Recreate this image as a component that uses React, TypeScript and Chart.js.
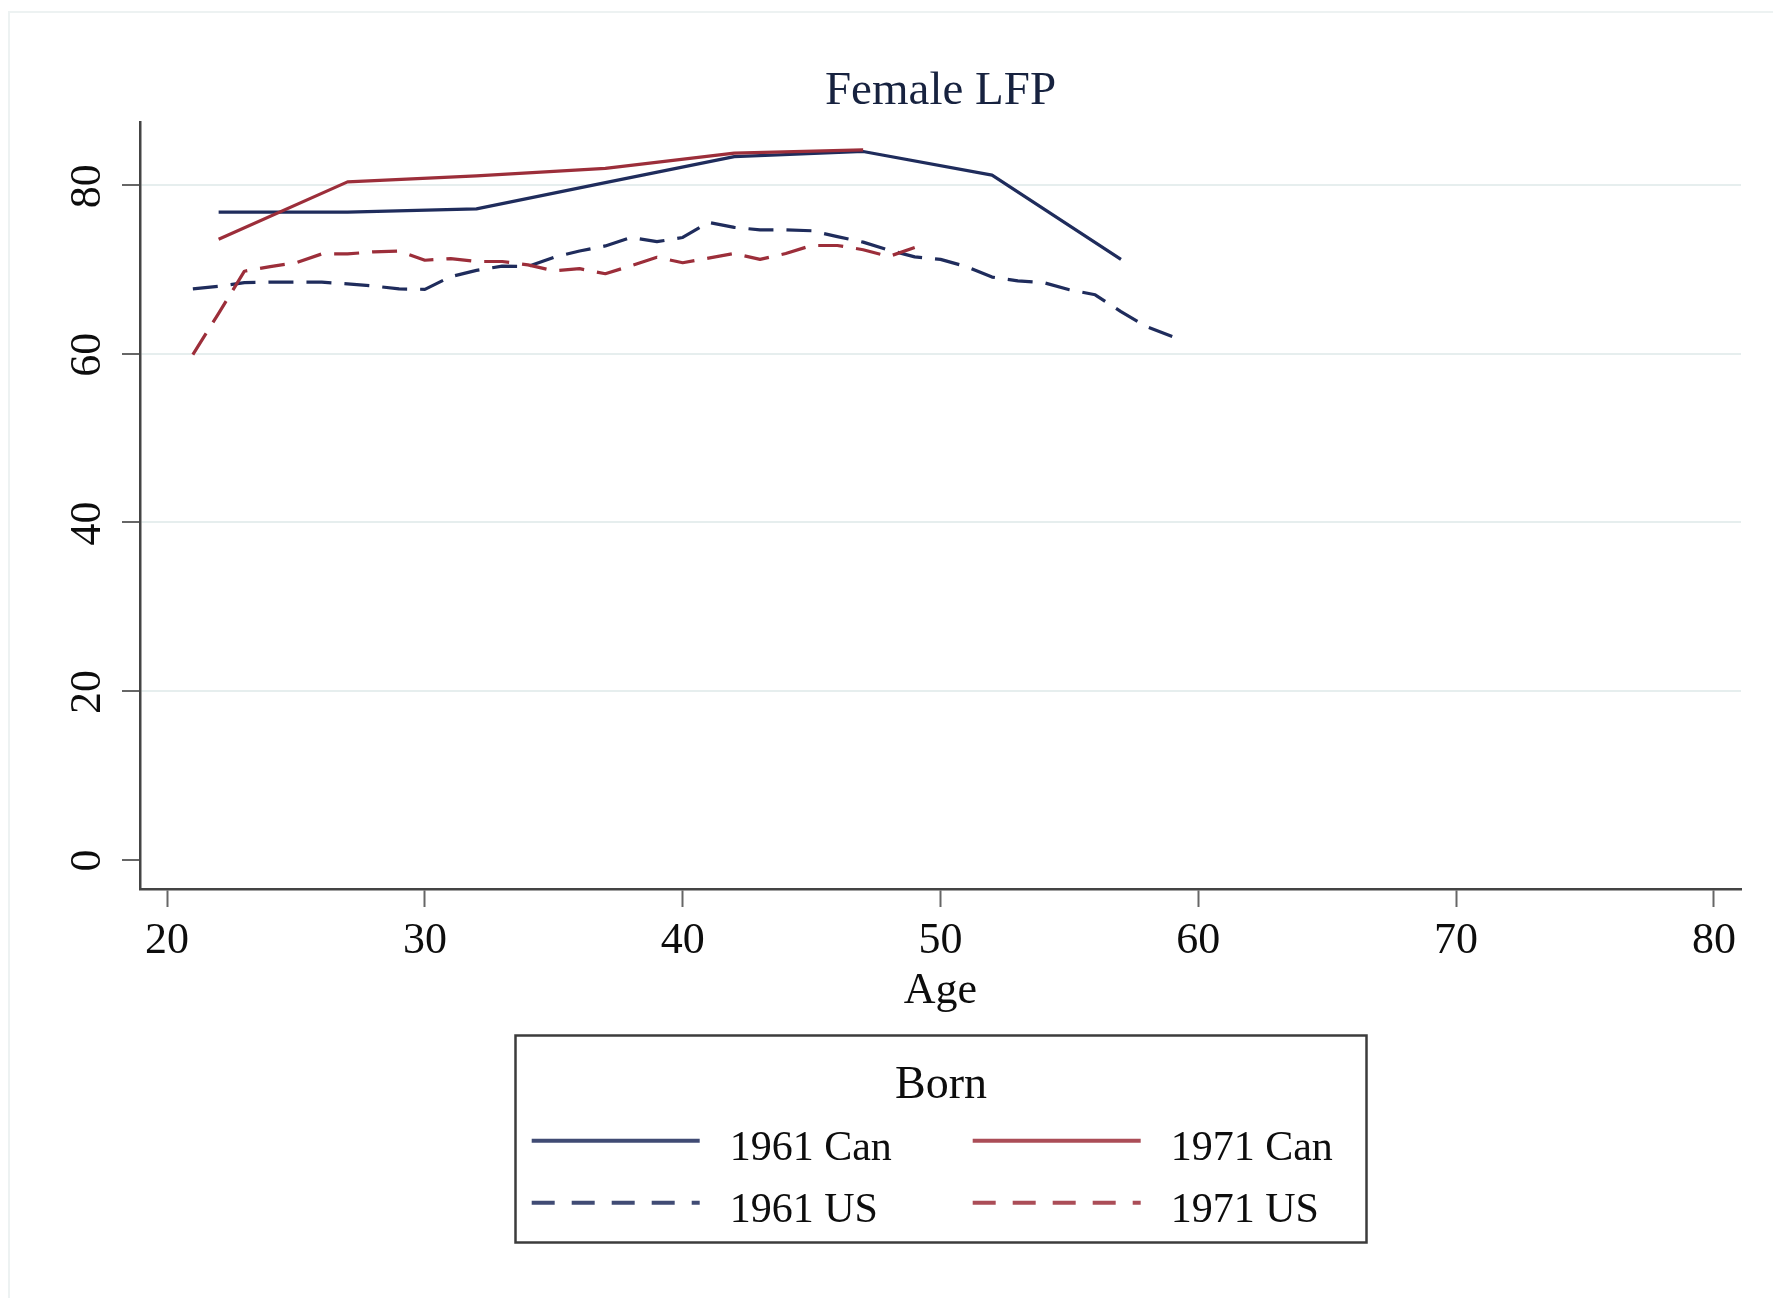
import React, { useEffect, useRef } from 'react';
import { Chart, registerables } from 'chart.js';

Chart.register(...registerables);

const W = 1773;
const H = 1298;
const FONT = '"Liberation Serif", "Times New Roman", serif';

// ---- data ----
const chartTitle = 'Female LFP';
const xAxisTitle = 'Age';
const legendTitle = 'Born';

const seriesLabels = ['1961 Can', '1971 Can', '1961 US', '1971 US'];

const ages1961Can = [22, 27, 32, 37, 42, 47, 52, 57];
const lfp1961Can = [76.8, 76.8, 77.2, 80.3, 83.4, 84.0, 81.2, 71.2];

const ages1971Can = [22, 27, 32, 37, 42, 47];
const lfp1971Can = [73.6, 80.4, 81.1, 82.0, 83.8, 84.2];

const ages1961US = [
  21, 22, 23, 24, 25, 26, 27, 28, 29, 30, 31, 32, 33, 34, 35, 36, 37, 38, 39, 40,
  41, 42, 43, 44, 45, 46, 47, 48, 49, 50, 51, 52, 53, 54, 55, 56, 57, 58, 59,
];
const lfp1961US = [
  67.7, 68.0, 68.45, 68.5, 68.5, 68.5, 68.3, 68.05, 67.7, 67.65, 69.15, 69.9, 70.4, 70.35,
  71.45, 72.2, 72.8, 73.8, 73.3, 73.8, 75.6, 75.0, 74.7, 74.7, 74.6, 73.9, 73.25, 72.3,
  71.5, 71.2, 70.35, 69.1, 68.65, 68.45, 67.6, 67.0, 65.0, 63.2, 62.05,
];

const ages1971US = [
  21, 22, 23, 24, 25, 26, 27, 28, 29, 30, 31, 32, 33, 34, 35, 36, 37, 38, 39, 40,
  41, 42, 43, 44, 45, 46, 47, 48, 49,
];
const lfp1971US = [
  59.9, 64.8, 69.8, 70.35, 70.8, 71.85, 71.85, 72.1, 72.2, 71.1, 71.3, 70.95, 70.95, 70.55,
  69.85, 70.1, 69.5, 70.45, 71.45, 70.8, 71.35, 71.9, 71.2, 71.9, 72.85, 72.85, 72.35,
  71.55, 72.6,
];

const xTickStep = 10;
const yTickStep = 20;

const NAVY = '#1f2c5c';
const MAROON = '#9c2e3a';

const toPoints = (xs: number[], ys: number[]) => xs.map((x, i) => ({ x, y: ys[i] }));

export default function App() {
  const ref = useRef<HTMLCanvasElement>(null);

  useEffect(() => {
    if (!ref.current) return;

    const yLabelPlugin = {
      id: 'rotatedYLabels',
      afterDraw(chart: any) {
        const s = chart.scales.y;
        const c = chart.ctx;
        c.save();
        c.font = `44px ${FONT}`;
        c.fillStyle = '#0d0d0d';
        c.textAlign = 'center';
        c.textBaseline = 'middle';
        s.ticks.forEach((t: any) => {
          const py = s.getPixelForValue(t.value);
          c.save();
          c.translate(88.5, py + 1);
          c.rotate(-Math.PI / 2);
          c.fillText(String(t.value), 0, 0);
          c.restore();
        });
        c.restore();
      },
    };

    const legendPlugin = {
      id: 'bornLegend',
      afterDraw(chart: any) {
        const c = chart.ctx;
        c.save();
        // frame
        c.strokeStyle = '#3c3c3c';
        c.lineWidth = 2.5;
        c.strokeRect(515.5, 1035.5, 851, 207);
        // title
        c.fillStyle = '#0d0d0d';
        c.font = `46px ${FONT}`;
        c.textAlign = 'center';
        c.textBaseline = 'alphabetic';
        c.fillText(legendTitle, 941, 1098);
        // items
        const colX = [531.7, 972.7];
        const rowY = [1140.7, 1202.7];
        const sampleW = 168;
        c.font = `42px ${FONT}`;
        c.textAlign = 'left';
        chart.data.datasets.forEach((ds: any, i: number) => {
          const col = i % 2;
          const row = Math.floor(i / 2);
          const x0 = colX[col];
          const y0 = rowY[row];
          c.save();
          c.strokeStyle = ds.borderColor;
          c.globalAlpha = 0.85;
          c.lineWidth = 4;
          c.setLineDash(ds.borderDash && ds.borderDash.length ? [23, 17] : []);
          c.beginPath();
          c.moveTo(x0, y0);
          c.lineTo(x0 + sampleW, y0);
          c.stroke();
          c.restore();
          c.fillStyle = '#0d0d0d';
          c.fillText(ds.label, x0 + 198, y0 + 19.5);
        });
        c.restore();
      },
    };

    const chart = new Chart(ref.current, {
      type: 'line',
      data: {
        datasets: [
          {
            label: seriesLabels[0],
            data: toPoints(ages1961Can, lfp1961Can),
            borderColor: NAVY,
            borderWidth: 3.2,
            order: 3,
          },
          {
            label: seriesLabels[1],
            data: toPoints(ages1971Can, lfp1971Can),
            borderColor: MAROON,
            borderWidth: 3.2,
            order: 2,
          },
          {
            label: seriesLabels[2],
            data: toPoints(ages1961US, lfp1961US),
            borderColor: NAVY,
            borderWidth: 3.2,
            borderDash: [25, 13],
            order: 1,
          },
          {
            label: seriesLabels[3],
            data: toPoints(ages1971US, lfp1971US),
            borderColor: MAROON,
            borderWidth: 3.2,
            borderDash: [25, 13],
            order: 0,
          },
        ],
      },
      options: {
        responsive: false,
        animation: false,
        devicePixelRatio: 1,
        layout: { padding: { left: 0, right: 32, top: 40, bottom: 279 } },
        elements: {
          point: { radius: 0, hoverRadius: 0 },
          line: { tension: 0, fill: false, borderCapStyle: 'butt', borderJoinStyle: 'round' },
        },
        plugins: {
          legend: { display: false },
          tooltip: { enabled: false },
          title: {
            display: true,
            text: chartTitle,
            fullSize: false,
            color: '#17223f',
            font: { family: FONT, size: 47, weight: 'normal', lineHeight: 1.2 },
            padding: { top: 23.6, bottom: 2 },
          },
        },
        scales: {
          x: {
            type: 'linear',
            min: 18.95,
            max: 81.05,
            afterFit: (s: any) => {
              s.height = 130;
            },
            ticks: {
              stepSize: xTickStep,
              includeBounds: false,
              maxRotation: 0,
              color: '#0d0d0d',
              padding: 8,
              font: { family: FONT, size: 44 },
            },
            grid: {
              drawOnChartArea: false,
              drawTicks: true,
              tickLength: 18,
              tickColor: '#666',
              tickWidth: 2,
            },
            border: { color: '#444', width: 2.5 },
            title: {
              display: true,
              text: xAxisTitle,
              color: '#0d0d0d',
              font: { family: FONT, size: 44, lineHeight: 1.2 },
              padding: { top: 0, bottom: 1 },
            },
          },
          y: {
            type: 'linear',
            min: -3.49,
            max: 87.5,
            afterFit: (s: any) => {
              s.width = 140;
            },
            ticks: {
              stepSize: yTickStep,
              includeBounds: false,
              color: 'rgba(0,0,0,0)',
              font: { family: FONT, size: 44 },
            },
            grid: {
              color: (ctx: any) => (ctx.tick && ctx.tick.value === 0 ? 'rgba(0,0,0,0)' : '#e6eeee'),
              lineWidth: 2,
              drawTicks: true,
              tickLength: 18,
              tickColor: '#666',
              tickWidth: 2,
            },
            border: { color: '#444', width: 2.5 },
          },
        },
      },
      plugins: [yLabelPlugin, legendPlugin],
    } as any);

    return () => chart.destroy();
  }, []);

  return (
    <div
      style={{
        position: 'absolute',
        left: 0,
        top: 0,
        width: W,
        height: H,
        overflow: 'hidden',
        background: '#fff',
      }}
    >
      <div
        style={{
          position: 'absolute',
          left: 8,
          top: 11,
          width: W + 40,
          height: H + 40,
          border: '2px solid #edf2f2',
        }}
      />
      <canvas
        ref={ref}
        width={W}
        height={H}
        style={{ position: 'absolute', left: 0, top: 0, width: W, height: H }}
      />
    </div>
  );
}
